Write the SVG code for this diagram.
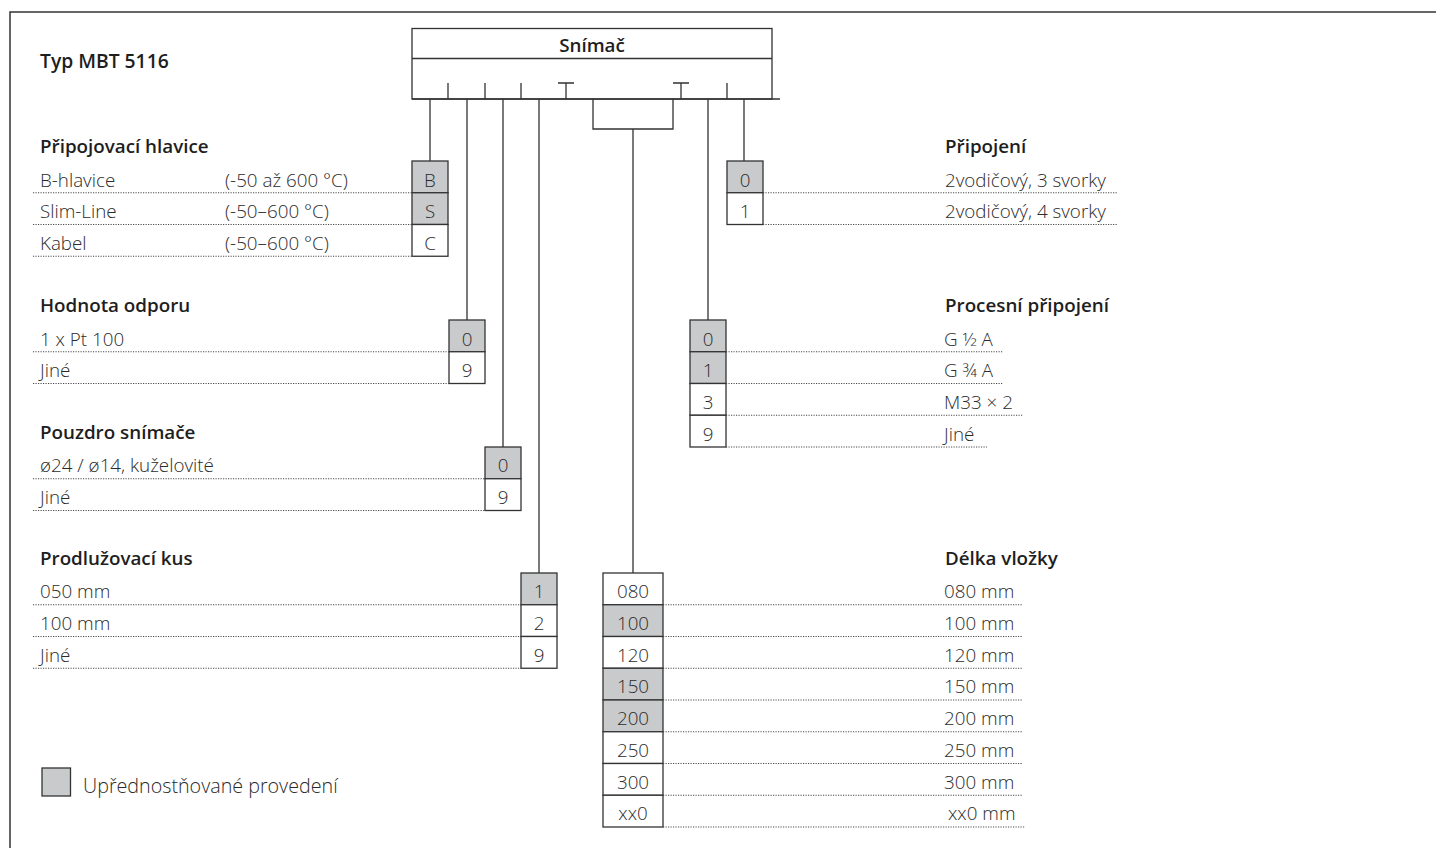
<svg xmlns="http://www.w3.org/2000/svg" width="1436" height="848" viewBox="0 0 1436 848">
<style>
.t{font-family:"Open Sans","Liberation Sans",sans-serif;font-weight:300;font-size:18.8px;fill:#2b2b2b}
.h{font-family:"Open Sans","Liberation Sans",sans-serif;font-weight:600;font-size:18.8px;fill:#1e1e1e}
.c{text-anchor:middle}
.cell{fill:#fff;stroke:#333;stroke-width:1.3}
.pref{fill:#c9cacc;stroke:#333;stroke-width:1.3}
.dot{stroke:#4a4a4a;stroke-width:1;stroke-dasharray:1.2 1.3;fill:none}
.ln{stroke:#333;stroke-width:1.3;fill:none}
</style>
<rect width="1436" height="848" fill="#fff"/>
<path d="M10 848V12H1436" class="ln" style="stroke-width:1.5"/>
<text x="40" y="68" class="h" style="font-size:19.3px">Typ MBT 5116</text>

<g id="header">
<rect x="412" y="28.5" width="360" height="70.5" fill="#fff" stroke="#333" stroke-width="1.3"/>
<line x1="412" y1="58.5" x2="772" y2="58.5" class="ln"/>
<line x1="412" y1="99" x2="780" y2="99" class="ln"/>
<text x="592" y="52" class="h c">Snímač</text>
<path d="M448 83V99M485 83V99M521 83V99M727 83V99M566 83V99M558 83H574M681 83V99M673 83H689" class="ln"/>
</g>

<g id="connectors">
<path d="M430 99V161M467 99V320M503 99V447M539 99V573M708 99V320M744 99V161M593 99V129H673V99M633 129V573" class="ln"/>
</g>

<g id="pripojovaci-hlavice">
<text x="40" y="153" class="h">Připojovací hlavice</text>
<rect x="412" y="161" width="36" height="31.75" class="pref"/>
<rect x="412" y="192.75" width="36" height="31.75" class="pref"/>
<rect x="412" y="224.5" width="36" height="31.75" class="cell"/>
<text x="430" y="186.5" class="t c">B</text>
<text x="430" y="218.25" class="t c">S</text>
<text x="430" y="250" class="t c">C</text>
<text x="40" y="186.5" class="t">B-hlavice</text><text x="225" y="186.5" class="t">(-50 až 600 °C)</text>
<text x="40" y="218.25" class="t">Slim-Line</text><text x="225" y="218.25" class="t">(-50–600 °C)</text>
<text x="40" y="250" class="t">Kabel</text><text x="225" y="250" class="t">(-50–600 °C)</text>
<path d="M33 192.75H412M33 224.5H412M33 256.25H412" class="dot"/>
</g>

<g id="hodnota-odporu">
<text x="40" y="312" class="h">Hodnota odporu</text>
<rect x="449" y="320" width="36" height="31.75" class="pref"/>
<rect x="449" y="351.75" width="36" height="31.75" class="cell"/>
<text x="467" y="345.5" class="t c">0</text>
<text x="467" y="377.25" class="t c">9</text>
<text x="40" y="345.5" class="t">1 x Pt 100</text>
<text x="40" y="377.25" class="t">Jiné</text>
<path d="M33 351.75H449M33 383.5H449" class="dot"/>
</g>

<g id="pouzdro-snimace">
<text x="40" y="439" class="h">Pouzdro snímače</text>
<rect x="485" y="447" width="36" height="31.75" class="pref"/>
<rect x="485" y="478.75" width="36" height="31.75" class="cell"/>
<text x="503" y="472" class="t c">0</text>
<text x="503" y="503.75" class="t c">9</text>
<text x="40" y="472" class="t">ø24 / ø14, kuželovité</text>
<text x="40" y="503.75" class="t">Jiné</text>
<path d="M33 478.75H485M33 510.5H485" class="dot"/>
</g>

<g id="prodluzovaci-kus">
<text x="40" y="565" class="h">Prodlužovací kus</text>
<rect x="521" y="573" width="36" height="31.75" class="pref"/>
<rect x="521" y="604.75" width="36" height="31.75" class="cell"/>
<rect x="521" y="636.5" width="36" height="31.75" class="cell"/>
<text x="539" y="598" class="t c">1</text>
<text x="539" y="629.75" class="t c">2</text>
<text x="539" y="661.5" class="t c">9</text>
<text x="40" y="598" class="t">050 mm</text>
<text x="40" y="629.75" class="t">100 mm</text>
<text x="40" y="661.5" class="t">Jiné</text>
<path d="M33 604.75H521M33 636.5H521M33 668.25H521" class="dot"/>
</g>

<g id="pripojeni">
<text x="945" y="153" class="h">Připojení</text>
<rect x="727" y="161" width="36" height="31.75" class="pref"/>
<rect x="727" y="192.75" width="36" height="31.75" class="cell"/>
<text x="745" y="186.5" class="t c">0</text>
<text x="745" y="218.25" class="t c">1</text>
<text x="945" y="186.5" class="t">2vodičový, 3 svorky</text>
<text x="945" y="218.25" class="t">2vodičový, 4 svorky</text>
<path d="M763 192.75H1117M763 224.5H1117" class="dot"/>
</g>

<g id="procesni-pripojeni">
<text x="945" y="312" class="h">Procesní připojení</text>
<rect x="690" y="320" width="36" height="31.75" class="pref"/>
<rect x="690" y="351.75" width="36" height="31.75" class="pref"/>
<rect x="690" y="383.5" width="36" height="31.75" class="cell"/>
<rect x="690" y="415.25" width="36" height="31.75" class="cell"/>
<text x="708" y="345.5" class="t c">0</text>
<text x="708" y="377.25" class="t c">1</text>
<text x="708" y="409" class="t c">3</text>
<text x="708" y="440.75" class="t c">9</text>
<text x="944" y="345.5" class="t">G ½ A</text>
<text x="944" y="377.25" class="t">G ¾ A</text>
<text x="944" y="409" class="t">M33 × 2</text>
<text x="944" y="440.75" class="t">Jiné</text>
<path d="M726 351.75H1003M726 383.5H1003M726 415.25H1023M726 447H987" class="dot"/>
</g>

<g id="delka-vlozky">
<text x="945" y="565" class="h">Délka vložky</text>
<rect x="603" y="573" width="60" height="31.75" class="cell"/>
<rect x="603" y="604.75" width="60" height="31.75" class="pref"/>
<rect x="603" y="636.5" width="60" height="31.75" class="cell"/>
<rect x="603" y="668.25" width="60" height="31.75" class="pref"/>
<rect x="603" y="700" width="60" height="31.75" class="pref"/>
<rect x="603" y="731.75" width="60" height="31.75" class="cell"/>
<rect x="603" y="763.5" width="60" height="31.75" class="cell"/>
<rect x="603" y="795.25" width="60" height="31.75" class="cell"/>
<text x="633" y="598" class="t c">080</text>
<text x="633" y="629.75" class="t c">100</text>
<text x="633" y="661.5" class="t c">120</text>
<text x="633" y="693.25" class="t c">150</text>
<text x="633" y="725" class="t c">200</text>
<text x="633" y="756.75" class="t c">250</text>
<text x="633" y="788.5" class="t c">300</text>
<text x="633" y="820.25" class="t c">xx0</text>
<text x="944" y="598" class="t">080 mm</text>
<text x="944" y="629.75" class="t">100 mm</text>
<text x="944" y="661.5" class="t">120 mm</text>
<text x="944" y="693.25" class="t">150 mm</text>
<text x="944" y="725" class="t">200 mm</text>
<text x="944" y="756.75" class="t">250 mm</text>
<text x="944" y="788.5" class="t">300 mm</text>
<text x="948" y="820.25" class="t">xx0 mm</text>
<path d="M663 604.75H1023M663 636.5H1023M663 668.25H1023M663 700H1023M663 731.75H1023M663 763.5H1023M663 795.25H1023M663 827H1025" class="dot"/>
</g>

<g id="legend">
<rect x="42" y="768" width="28.5" height="28" class="pref"/>
<text x="83" y="793" class="t" style="font-size:19.7px">Upřednostňované provedení</text>
</g>
</svg>
